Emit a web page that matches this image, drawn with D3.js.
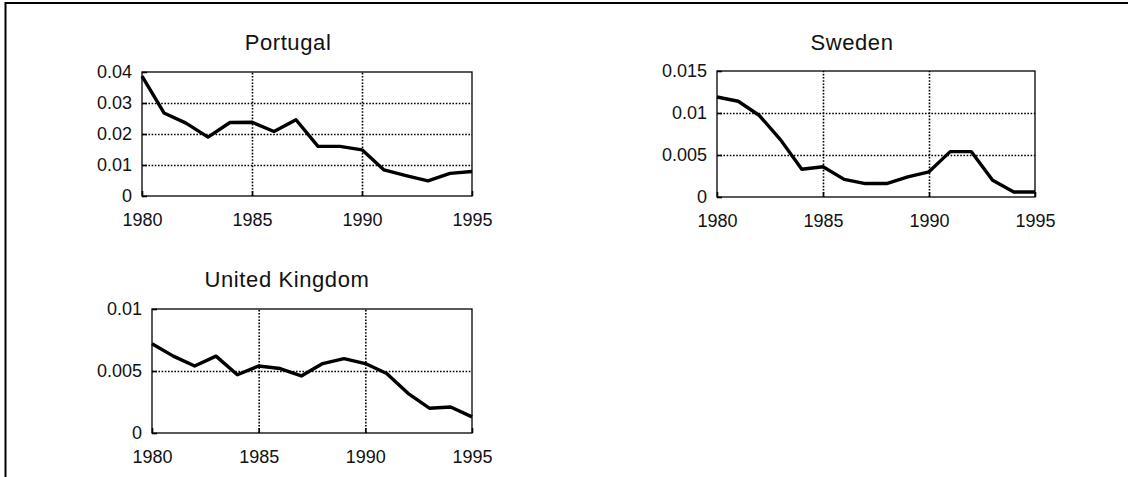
<!DOCTYPE html>
<html>
<head>
<meta charset="utf-8">
<script src="https://cdn.jsdelivr.net/npm/d3@7"></script>
<style>
  body { margin: 0; background: #fff; }
  svg { display: block; font-family: "Liberation Sans", Arial, sans-serif; }
  .tick text { font-size: 18px; fill: #111; }
  .title { font-size: 22px; fill: #111; letter-spacing: 0.6px; }
</style>
</head>
<body>
<svg id="chart" width="1128" height="477"></svg>
<script>
// years shared by every panel
var years = [1980, 1981, 1982, 1983, 1984, 1985, 1986, 1987, 1988, 1989, 1990, 1991, 1992, 1993, 1994, 1995]
var yearTicks = [1980, 1985, 1990, 1995]

var portugal = [0.0387, 0.0268, 0.0235, 0.019, 0.0237, 0.0238, 0.0208, 0.0246, 0.016, 0.016, 0.0149, 0.0084, 0.0066, 0.0049, 0.0073, 0.0079]
var sweden = [0.0119, 0.0114, 0.0097, 0.0068, 0.0033, 0.0036, 0.0021, 0.0016, 0.0016, 0.0024, 0.003, 0.0054, 0.0054, 0.002, 0.0006, 0.0006]
var uk = [0.0072, 0.0062, 0.0054, 0.0062, 0.0047, 0.0054, 0.0052, 0.0046, 0.0056, 0.006, 0.0056, 0.0048, 0.0032, 0.002, 0.0021, 0.0013]

var portugalTicks = [0, 0.01, 0.02, 0.03, 0.04]
var swedenTicks = [0, 0.005, 0.01, 0.015]
var ukTicks = [0, 0.005, 0.01]

// panel boxes (plot area in page pixels)
var panels = [
  { name: 'Portugal', values: portugal, ticks: portugalTicks, x0: 142, x1: 472, y0: 72, y1: 196, titleX: 288, titleY: 50 },
  { name: 'Sweden', values: sweden, ticks: swedenTicks, x0: 717, x1: 1035, y0: 71, y1: 197, titleX: 852, titleY: 50 },
  { name: 'United Kingdom', values: uk, ticks: ukTicks, x0: 152, x1: 472, y0: 309, y1: 433, titleX: 287, titleY: 287 }
]

var svg = d3.select('#chart')

// outer frame, only its top and left edges show
svg.append('path')
  .attr('d', 'M5.5,477 V3 H1128')
  .attr('fill', 'none')
  .attr('stroke', '#000')
  .attr('stroke-width', 2)

panels.forEach(function(p) {
  var x = d3.scaleLinear().domain([1980, 1995]).range([p.x0, p.x1])
  var y = d3.scaleLinear().domain([0, d3.max(p.ticks)]).range([p.y1, p.y0])
  var g = svg.append('g')

  var inner = p.ticks.slice(1, -1)
  var innerYears = yearTicks.slice(1, -1)

  // dotted grid
  g.append('g')
    .attr('transform', 'translate(' + p.x0 + ',0)')
    .call(d3.axisLeft(y).tickValues(inner).tickSize(-(p.x1 - p.x0)).tickFormat(''))
    .call(function(s) { s.select('.domain').remove() })
    .selectAll('line')
    .attr('stroke', '#000').attr('stroke-width', 1.6).attr('stroke-dasharray', '1.6,1.6')
  g.append('g')
    .attr('transform', 'translate(0,' + p.y1 + ')')
    .call(d3.axisBottom(x).tickValues(innerYears).tickSize(-(p.y1 - p.y0)).tickFormat(''))
    .call(function(s) { s.select('.domain').remove() })
    .selectAll('line')
    .attr('stroke', '#000').attr('stroke-width', 1.6).attr('stroke-dasharray', '1.6,1.6')

  // axes with short inward ticks
  g.append('g')
    .attr('transform', 'translate(' + p.x0 + ',0)')
    .call(d3.axisLeft(y).tickValues(p.ticks).tickSizeInner(-5).tickSizeOuter(0).tickPadding(10).tickFormat(function(d) { return String(d) }))
    .call(function(s) { s.select('.domain').remove() })
    .selectAll('line').attr('stroke', '#000').attr('stroke-width', 1.6)
  g.append('g')
    .attr('transform', 'translate(0,' + p.y1 + ')')
    .call(d3.axisBottom(x).tickValues(yearTicks).tickSizeInner(-5).tickSizeOuter(0).tickPadding(17).tickFormat(d3.format('d')))
    .call(function(s) { s.select('.domain').remove() })
    .selectAll('line').attr('stroke', '#000').attr('stroke-width', 1.6)

  g.selectAll('.tick text').attr('font-family', null).attr('font-size', null)

  // plot border
  g.append('rect')
    .attr('x', p.x0).attr('y', p.y0)
    .attr('width', p.x1 - p.x0).attr('height', p.y1 - p.y0)
    .attr('fill', 'none').attr('stroke', '#000').attr('stroke-width', 1.3)

  var line = d3.line()
    .x(function(d, i) { return x(years[i]) })
    .y(function(d) { return y(d) })

  g.append('path')
    .datum(p.values)
    .attr('d', line)
    .attr('fill', 'none')
    .attr('stroke', '#000')
    .attr('stroke-width', 3.4)
    .attr('stroke-linejoin', 'round')

  g.append('text')
    .attr('class', 'title')
    .attr('x', p.titleX).attr('y', p.titleY)
    .attr('text-anchor', 'middle')
    .text(p.name)
})
</script>
</body>
</html>
